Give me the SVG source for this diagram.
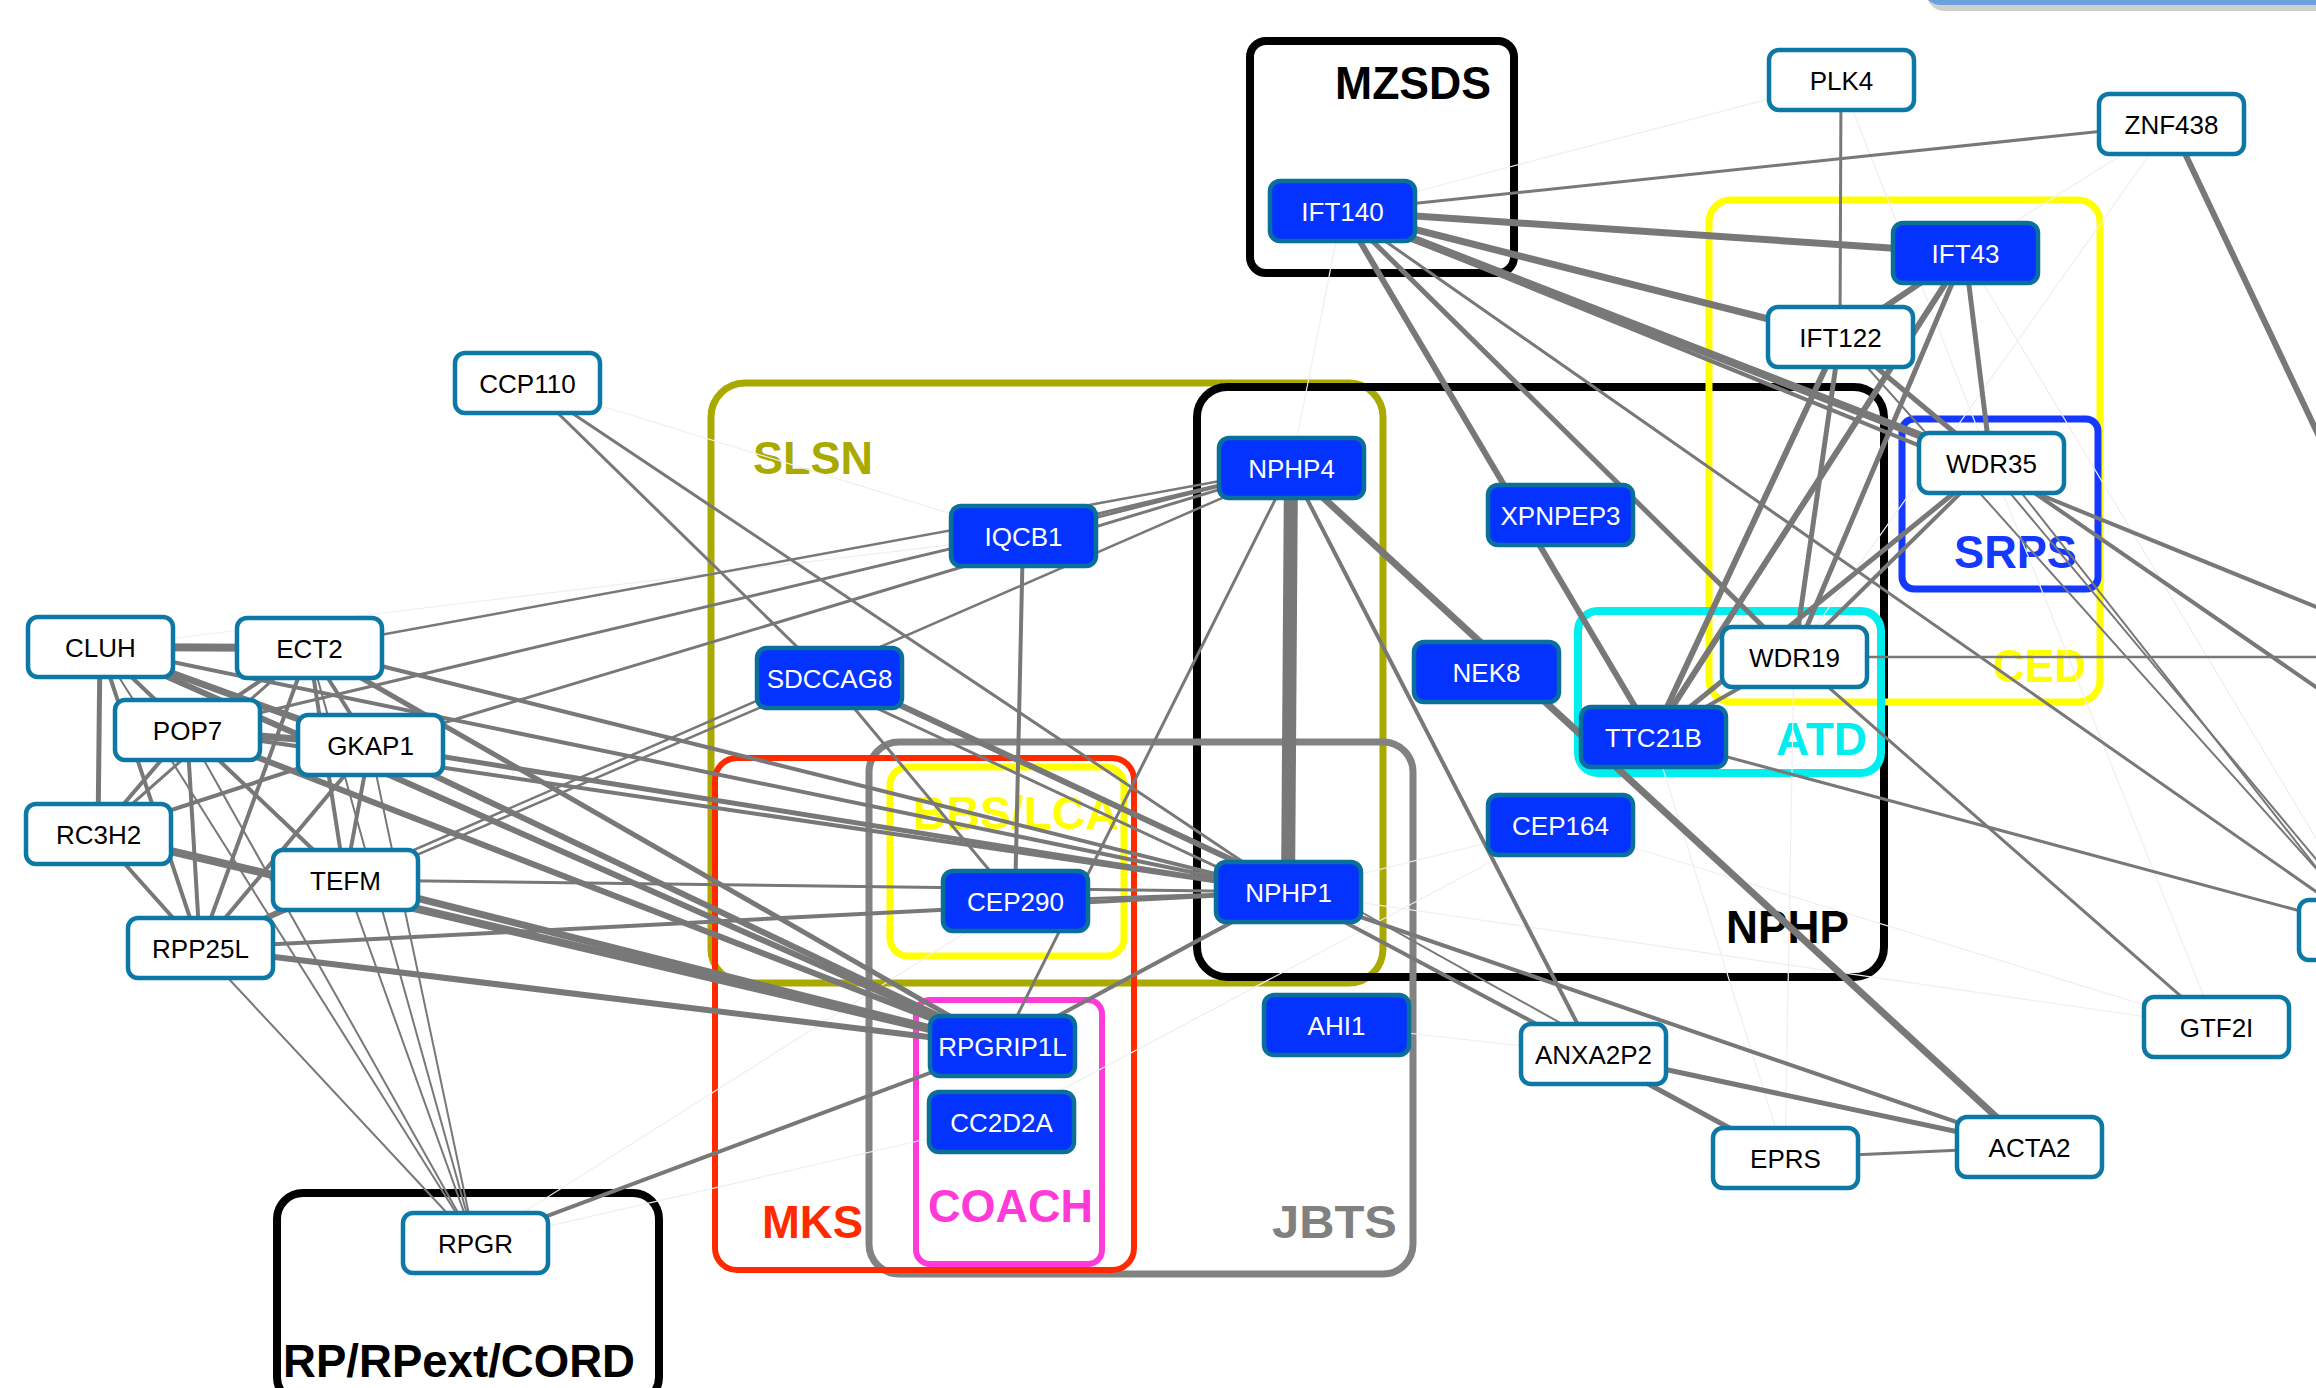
<svg xmlns="http://www.w3.org/2000/svg" width="2316" height="1388" viewBox="0 0 2316 1388">
<style>
  .bx { fill: none; }
  .gl { font-family: "Liberation Sans", Arial, sans-serif; font-weight: bold; font-size: 46px; }
  .e { stroke: #787878; fill: none; }
  .f { stroke: #efefef; stroke-width: 1.2; fill: none; }
  .nw rect { fill: #ffffff; stroke: #0b78a6; stroke-width: 4.5; }
  .nb rect { fill: #0433ff; stroke: #0b6f9c; stroke-width: 4.5; }
  .nw text, .nb text { font-family: "Liberation Sans", Arial, sans-serif; font-size: 26px; text-anchor: middle; }
  .nw text { fill: #000000; }
  .nb text { fill: #ffffff; }
</style>
<rect x="0" y="0" width="2316" height="1388" fill="#ffffff"/>

<!-- partial panel at top right -->
<g id="top-panel">
  <rect x="1929" y="-58" width="480" height="66" rx="16" fill="none" stroke="#cfcfcf" stroke-width="6"/>
  <rect x="1925" y="-62" width="480" height="64" rx="16" fill="#ffffff" stroke="#6aa0dc" stroke-width="6"/>
</g>

<g id="groups">
  <rect class="bx" x="1250" y="41" width="264" height="232" rx="16" stroke="#000000" stroke-width="8"/>
  <rect class="bx" x="711" y="383" width="672" height="600" rx="34" stroke="#a9a900" stroke-width="7"/>
  <rect class="bx" x="1197" y="387" width="687" height="590" rx="30" stroke="#000000" stroke-width="8"/>
  <rect class="bx" x="869" y="742" width="544" height="532" rx="30" stroke="#828282" stroke-width="7"/>
  <rect class="bx" x="715" y="758" width="419" height="512" rx="22" stroke="#ff2a00" stroke-width="6"/>
  <rect class="bx" x="890" y="767" width="234" height="189" rx="18" stroke="#ffff00" stroke-width="7"/>
  <rect class="bx" x="916" y="1000" width="186" height="264" rx="14" stroke="#ff3ad9" stroke-width="6"/>
  <rect class="bx" x="277" y="1193" width="382" height="210" rx="26" stroke="#000000" stroke-width="8"/>
  <rect class="bx" x="1709" y="200" width="391" height="502" rx="22" stroke="#ffff00" stroke-width="7"/>
  <rect class="bx" x="1902" y="419" width="196" height="170" rx="12" stroke="#1538ff" stroke-width="7"/>
  <rect class="bx" x="1578" y="611" width="303" height="162" rx="20" stroke="#00eeee" stroke-width="8"/>
</g>

<g id="group-labels">
  <text class="gl" x="1335" y="99" textLength="156" lengthAdjust="spacingAndGlyphs" fill="#000000">MZSDS</text>
  <text class="gl" x="753" y="474" textLength="120" lengthAdjust="spacingAndGlyphs" fill="#a9a900">SLSN</text>
  <text class="gl" x="1726" y="943" textLength="123" lengthAdjust="spacingAndGlyphs" fill="#000000">NPHP</text>
  <text class="gl" x="913" y="829" textLength="206" lengthAdjust="spacingAndGlyphs" fill="#ffff00">BBS/LCA</text>
  <text class="gl" x="762" y="1238" textLength="101" lengthAdjust="spacingAndGlyphs" fill="#ff2a00">MKS</text>
  <text class="gl" x="1272" y="1238" textLength="125" lengthAdjust="spacingAndGlyphs" fill="#808080">JBTS</text>
  <text class="gl" x="928" y="1222" textLength="165" lengthAdjust="spacingAndGlyphs" fill="#ff3ad9">COACH</text>
  <text class="gl" x="283" y="1377" textLength="352" lengthAdjust="spacingAndGlyphs" fill="#000000">RP/RPext/CORD</text>
  <text class="gl" x="1993" y="682" textLength="93" lengthAdjust="spacingAndGlyphs" fill="#ffff00">CED</text>
  <text class="gl" x="1954" y="568" textLength="123" lengthAdjust="spacingAndGlyphs" fill="#1538ff">SRPS</text>
  <text class="gl" x="1776" y="755" textLength="91" lengthAdjust="spacingAndGlyphs" fill="#00eeee">ATD</text>
</g>

<g id="connectors">
  <!-- faint background links -->
  <line class="f" x1="527" y1="383" x2="1023" y2="536"/>
  <line class="f" x1="1342" y1="211" x2="1291" y2="468"/>
  <line class="f" x1="475" y1="1243" x2="1001" y2="1122"/>
  <line class="f" x1="1841" y1="80" x2="1342" y2="211"/>
  <line class="f" x1="1841" y1="80" x2="1991" y2="463"/>
  <line class="f" x1="2171" y1="124" x2="1794" y2="657"/>
  <line class="f" x1="2171" y1="124" x2="1965" y2="253"/>
  <line class="f" x1="100" y1="647" x2="1023" y2="536"/>
  <line class="f" x1="2216" y1="1027" x2="1288" y2="892"/>
  <line class="f" x1="1336" y1="1025" x2="1593" y2="1054"/>
  <line class="f" x1="1785" y1="1158" x2="1653" y2="737"/>
  <line class="f" x1="1560" y1="825" x2="1288" y2="892"/>
  <line class="f" x1="475" y1="1243" x2="1015" y2="901"/>
  <line class="f" x1="2216" y1="1027" x2="1991" y2="463"/>
  <line class="f" x1="1785" y1="1158" x2="1794" y2="657"/>
  <line class="f" x1="2371" y1="930" x2="1965" y2="253"/>
  <line class="f" x1="1001" y1="1122" x2="1560" y2="825"/>
  <line class="f" x1="2216" y1="1027" x2="1560" y2="825"/>

  <!-- IFT / ciliopathy cluster -->
  <line class="e" stroke-width="3" x1="1342" y1="211" x2="2171" y2="124"/>
  <line class="e" stroke-width="7" x1="1342" y1="211" x2="1965" y2="253"/>
  <line class="e" stroke-width="7" x1="1342" y1="211" x2="1840" y2="337"/>
  <line class="e" stroke-width="8" x1="1342" y1="211" x2="1991" y2="463"/>
  <line class="e" stroke-width="4" x1="1342" y1="211" x2="2400" y2="641"/>
  <line class="e" stroke-width="6" x1="1342" y1="211" x2="1653" y2="737"/>
  <line class="e" stroke-width="5" x1="1342" y1="211" x2="1794" y2="657"/>
  <line class="e" stroke-width="3" x1="1342" y1="211" x2="2371" y2="930"/>
  <line class="e" stroke-width="3" x1="1841" y1="80" x2="1840" y2="337"/>
  <line class="e" stroke-width="6" x1="1965" y1="253" x2="1840" y2="337"/>
  <line class="e" stroke-width="5" x1="1965" y1="253" x2="1991" y2="463"/>
  <line class="e" stroke-width="6" x1="1965" y1="253" x2="1653" y2="737"/>
  <line class="e" stroke-width="5" x1="1965" y1="253" x2="1794" y2="657"/>
  <line class="e" stroke-width="6" x1="1840" y1="337" x2="1653" y2="737"/>
  <line class="e" stroke-width="5" x1="1840" y1="337" x2="1794" y2="657"/>
  <line class="e" stroke-width="5" x1="1840" y1="337" x2="1991" y2="463"/>
  <line class="e" stroke-width="2" x1="1840" y1="337" x2="2371" y2="930"/>
  <line class="e" stroke-width="5" x1="1991" y1="463" x2="1653" y2="737"/>
  <line class="e" stroke-width="4" x1="1991" y1="463" x2="1794" y2="657"/>
  <line class="e" stroke-width="4" x1="1794" y1="657" x2="1653" y2="737"/>
  <line class="e" stroke-width="4" x1="1991" y1="463" x2="2400" y2="745"/>
  <line class="e" stroke-width="2" x1="1985" y1="463" x2="2371" y2="925"/>
  <line class="e" stroke-width="2" x1="1998" y1="463" x2="2371" y2="937"/>
  <line class="e" stroke-width="2.5" x1="1794" y1="657" x2="2400" y2="657"/>
  <line class="e" stroke-width="3" x1="1794" y1="657" x2="2216" y2="1027"/>
  <line class="e" stroke-width="3" x1="1653" y1="737" x2="2371" y2="930"/>
  <line class="e" stroke-width="6" x1="2171" y1="124" x2="2380" y2="565"/>

  <!-- NPHP / JBTS cluster -->
  <line class="e" stroke-width="14" x1="1291" y1="468" x2="1288" y2="892"/>
  <line class="e" stroke-width="3" x1="1291" y1="468" x2="1002" y2="1046"/>
  <line class="e" stroke-width="4" x1="1291" y1="468" x2="1593" y2="1054"/>
  <line class="e" stroke-width="7" x1="1291" y1="468" x2="2029" y2="1147"/>
  <line class="e" stroke-width="3" x1="1291" y1="468" x2="1023" y2="536"/>
  <line class="e" stroke-width="4" x1="1023" y1="536" x2="1015" y2="901"/>
  <line class="e" stroke-width="6" x1="829" y1="672" x2="1288" y2="886"/>
  <line class="e" stroke-width="3" x1="829" y1="686" x2="1288" y2="900"/>
  <line class="e" stroke-width="3" x1="829" y1="678" x2="1015" y2="901"/>
  <line class="e" stroke-width="3" x1="527" y1="383" x2="829" y2="678"/>
  <line class="e" stroke-width="3" x1="527" y1="383" x2="1288" y2="892"/>
  <line class="e" stroke-width="2.5" x1="345" y1="880" x2="1291" y2="468"/>
  <line class="e" stroke-width="2.5" x1="200" y1="948" x2="829" y2="678"/>
  <line class="e" stroke-width="4" x1="1288" y1="892" x2="1002" y2="1046"/>
  <line class="e" stroke-width="4" x1="1288" y1="892" x2="1593" y2="1054"/>
  <line class="e" stroke-width="2" x1="1300" y1="878" x2="1600" y2="1045"/>
  <line class="e" stroke-width="4" x1="1288" y1="892" x2="2029" y2="1147"/>
  <line class="e" stroke-width="3" x1="1288" y1="892" x2="1015" y2="901"/>
  <line class="e" stroke-width="5" x1="1593" y1="1054" x2="1785" y2="1158"/>
  <line class="e" stroke-width="5" x1="1593" y1="1054" x2="2029" y2="1147"/>
  <line class="e" stroke-width="3" x1="1785" y1="1158" x2="2029" y2="1147"/>

  <!-- left cluster -->
  <line class="e" stroke-width="8" x1="100" y1="647" x2="309" y2="648"/>
  <line class="e" stroke-width="4" x1="100" y1="647" x2="187" y2="730"/>
  <line class="e" stroke-width="7" x1="100" y1="647" x2="370" y2="745"/>
  <line class="e" stroke-width="5" x1="100" y1="647" x2="98" y2="834"/>
  <line class="e" stroke-width="3" x1="100" y1="647" x2="345" y2="880"/>
  <line class="e" stroke-width="4" x1="100" y1="647" x2="200" y2="948"/>
  <line class="e" stroke-width="4" x1="100" y1="647" x2="1288" y2="892"/>
  <line class="e" stroke-width="6" x1="100" y1="647" x2="1002" y2="1046"/>
  <line class="e" stroke-width="2" x1="100" y1="647" x2="475" y2="1243"/>
  <line class="e" stroke-width="4" x1="309" y1="648" x2="187" y2="730"/>
  <line class="e" stroke-width="4" x1="309" y1="648" x2="370" y2="745"/>
  <line class="e" stroke-width="4" x1="309" y1="648" x2="345" y2="880"/>
  <line class="e" stroke-width="4" x1="309" y1="648" x2="200" y2="948"/>
  <line class="e" stroke-width="3" x1="309" y1="648" x2="98" y2="834"/>
  <line class="e" stroke-width="2.5" x1="309" y1="648" x2="1291" y2="468"/>
  <line class="e" stroke-width="4" x1="309" y1="648" x2="1288" y2="892"/>
  <line class="e" stroke-width="5" x1="309" y1="648" x2="1002" y2="1046"/>
  <line class="e" stroke-width="2" x1="309" y1="648" x2="475" y2="1243"/>
  <line class="e" stroke-width="7" x1="187" y1="730" x2="370" y2="745"/>
  <line class="e" stroke-width="4" x1="187" y1="730" x2="98" y2="834"/>
  <line class="e" stroke-width="4" x1="187" y1="730" x2="345" y2="880"/>
  <line class="e" stroke-width="4" x1="187" y1="730" x2="200" y2="948"/>
  <line class="e" stroke-width="3" x1="187" y1="730" x2="1291" y2="468"/>
  <line class="e" stroke-width="4" x1="187" y1="730" x2="1288" y2="892"/>
  <line class="e" stroke-width="6" x1="187" y1="730" x2="1002" y2="1046"/>
  <line class="e" stroke-width="2" x1="187" y1="730" x2="475" y2="1243"/>
  <line class="e" stroke-width="4" x1="370" y1="745" x2="98" y2="834"/>
  <line class="e" stroke-width="4" x1="370" y1="745" x2="345" y2="880"/>
  <line class="e" stroke-width="4" x1="370" y1="745" x2="200" y2="948"/>
  <line class="e" stroke-width="3" x1="370" y1="745" x2="1291" y2="468"/>
  <line class="e" stroke-width="5" x1="370" y1="745" x2="1288" y2="892"/>
  <line class="e" stroke-width="6" x1="370" y1="745" x2="1002" y2="1046"/>
  <line class="e" stroke-width="2" x1="370" y1="745" x2="475" y2="1243"/>
  <line class="e" stroke-width="8" x1="98" y1="834" x2="1002" y2="1046"/>
  <line class="e" stroke-width="4" x1="98" y1="834" x2="200" y2="948"/>
  <line class="e" stroke-width="4" x1="345" y1="880" x2="200" y2="948"/>
  <line class="e" stroke-width="3" x1="345" y1="880" x2="1288" y2="892"/>
  <line class="e" stroke-width="7" x1="345" y1="880" x2="1002" y2="1046"/>
  <line class="e" stroke-width="2" x1="345" y1="880" x2="475" y2="1243"/>
  <line class="e" stroke-width="4" x1="200" y1="948" x2="1288" y2="892"/>
  <line class="e" stroke-width="6" x1="200" y1="948" x2="1002" y2="1046"/>
  <line class="e" stroke-width="2" x1="200" y1="948" x2="475" y2="1243"/>
  <line class="e" stroke-width="4" x1="1002" y1="1046" x2="475" y2="1243"/>
</g>

<g id="nodes">
  <g id="n-CCP110" class="nw"><rect x="455" y="353" width="145" height="60" rx="10"/><text x="527.5" y="392.5">CCP110</text></g>
  <g id="n-PLK4" class="nw"><rect x="1769" y="50" width="145" height="60" rx="10"/><text x="1841.5" y="89.5">PLK4</text></g>
  <g id="n-ZNF438" class="nw"><rect x="2099" y="94" width="145" height="60" rx="10"/><text x="2171.5" y="133.5">ZNF438</text></g>
  <g id="n-IFT122" class="nw"><rect x="1768" y="307" width="145" height="60" rx="10"/><text x="1840.5" y="346.5">IFT122</text></g>
  <g id="n-WDR35" class="nw"><rect x="1919" y="433" width="145" height="60" rx="10"/><text x="1991.5" y="472.5">WDR35</text></g>
  <g id="n-WDR19" class="nw"><rect x="1722" y="627" width="145" height="60" rx="10"/><text x="1794.5" y="666.5">WDR19</text></g>
  <g id="n-CLUH" class="nw"><rect x="28" y="617" width="145" height="60" rx="10"/><text x="100.5" y="656.5">CLUH</text></g>
  <g id="n-ECT2" class="nw"><rect x="237" y="618" width="145" height="60" rx="10"/><text x="309.5" y="657.5">ECT2</text></g>
  <g id="n-POP7" class="nw"><rect x="115" y="700" width="145" height="60" rx="10"/><text x="187.5" y="739.5">POP7</text></g>
  <g id="n-GKAP1" class="nw"><rect x="298" y="715" width="145" height="60" rx="10"/><text x="370.5" y="754.5">GKAP1</text></g>
  <g id="n-RC3H2" class="nw"><rect x="26" y="804" width="145" height="60" rx="10"/><text x="98.5" y="843.5">RC3H2</text></g>
  <g id="n-TEFM" class="nw"><rect x="273" y="850" width="145" height="60" rx="10"/><text x="345.5" y="889.5">TEFM</text></g>
  <g id="n-RPP25L" class="nw"><rect x="128" y="918" width="145" height="60" rx="10"/><text x="200.5" y="957.5">RPP25L</text></g>
  <g id="n-RPGR" class="nw"><rect x="403" y="1213" width="145" height="60" rx="10"/><text x="475.5" y="1252.5">RPGR</text></g>
  <g id="n-ANXA2P2" class="nw"><rect x="1521" y="1024" width="145" height="60" rx="10"/><text x="1593.5" y="1063.5">ANXA2P2</text></g>
  <g id="n-EPRS" class="nw"><rect x="1713" y="1128" width="145" height="60" rx="10"/><text x="1785.5" y="1167.5">EPRS</text></g>
  <g id="n-ACTA2" class="nw"><rect x="1957" y="1117" width="145" height="60" rx="10"/><text x="2029.5" y="1156.5">ACTA2</text></g>
  <g id="n-GTF2I" class="nw"><rect x="2144" y="997" width="145" height="60" rx="10"/><text x="2216.5" y="1036.5">GTF2I</text></g>
  <g id="n-offscreen" class="nw"><rect x="2299" y="900" width="145" height="60" rx="10"/></g>

  <g id="n-IFT140" class="nb"><rect x="1270" y="181" width="145" height="60" rx="10"/><text x="1342.5" y="220.5">IFT140</text></g>
  <g id="n-IFT43" class="nb"><rect x="1893" y="223" width="145" height="60" rx="10"/><text x="1965.5" y="262.5">IFT43</text></g>
  <g id="n-NPHP4" class="nb"><rect x="1219" y="438" width="145" height="60" rx="10"/><text x="1291.5" y="477.5">NPHP4</text></g>
  <g id="n-IQCB1" class="nb"><rect x="951" y="506" width="145" height="60" rx="10"/><text x="1023.5" y="545.5">IQCB1</text></g>
  <g id="n-XPNPEP3" class="nb"><rect x="1488" y="485" width="145" height="60" rx="10"/><text x="1560.5" y="524.5">XPNPEP3</text></g>
  <g id="n-SDCCAG8" class="nb"><rect x="757" y="648" width="145" height="60" rx="10"/><text x="829.5" y="687.5">SDCCAG8</text></g>
  <g id="n-NEK8" class="nb"><rect x="1414" y="642" width="145" height="60" rx="10"/><text x="1486.5" y="681.5">NEK8</text></g>
  <g id="n-TTC21B" class="nb"><rect x="1581" y="707" width="145" height="60" rx="10"/><text x="1653.5" y="746.5">TTC21B</text></g>
  <g id="n-CEP164" class="nb"><rect x="1488" y="795" width="145" height="60" rx="10"/><text x="1560.5" y="834.5">CEP164</text></g>
  <g id="n-CEP290" class="nb"><rect x="943" y="871" width="145" height="60" rx="10"/><text x="1015.5" y="910.5">CEP290</text></g>
  <g id="n-NPHP1" class="nb"><rect x="1216" y="862" width="145" height="60" rx="10"/><text x="1288.5" y="901.5">NPHP1</text></g>
  <g id="n-AHI1" class="nb"><rect x="1264" y="995" width="145" height="60" rx="10"/><text x="1336.5" y="1034.5">AHI1</text></g>
  <g id="n-RPGRIP1L" class="nb"><rect x="930" y="1016" width="145" height="60" rx="10"/><text x="1002.5" y="1055.5">RPGRIP1L</text></g>
  <g id="n-CC2D2A" class="nb"><rect x="929" y="1092" width="145" height="60" rx="10"/><text x="1001.5" y="1131.5">CC2D2A</text></g>
</g>
</svg>
